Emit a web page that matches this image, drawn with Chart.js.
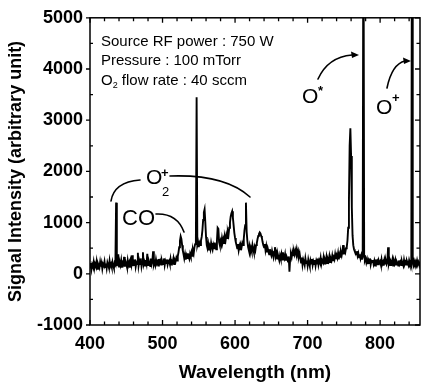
<!DOCTYPE html>
<html><head><meta charset="utf-8">
<script src="https://cdn.jsdelivr.net/npm/chart.js@4.4.1/dist/chart.umd.min.js"></script>
<style>html,body{margin:0;padding:0;background:#fff}</style>
</head><body>
<canvas id="c" width="421" height="386" style="width:421px;height:386px;display:block"></canvas>
<script>
// Sampling grid of the spectrum (nm)
const wavelengthStart = 400;
const wavelengthStep = 1;
// Signal intensity (arbitrary unit), one value per nm from 400 to 855
const intensity = [
 120,210,90,180,140,230,110,190,150,240,
 100,200,160,120,230,140,210,100,190,160,
 240,130,200,110,220,170,120,250,150,190,
 130,230,160,110,210,180,1390,150,220,380,
 140,230,170,260,120,210,180,330,140,240,
 190,130,260,170,220,120,250,180,360,150,
 230,170,280,140,220,190,410,160,250,190,
 300,150,240,420,180,230,160,270,200,390,
 170,260,210,150,300,190,250,440,180,230,
 170,280,200,230,160,290,210,250,180,270,
 220,190,300,170,250,210,280,180,240,260,
 200,290,180,250,230,300,190,270,240,310,
 260,340,420,520,640,730,680,560,450,380,
 300,380,280,360,310,400,330,290,390,340,
 420,350,460,400,520,580,640,3450,560,620,
 520,600,560,650,720,850,1050,1200,1260,1000,
 720,560,500,580,460,540,480,600,520,470,
 560,500,610,540,480,640,900,880,620,560,
 640,580,700,620,680,600,720,660,760,700,
 820,760,900,1000,1120,1180,1220,1100,950,800,
 700,620,560,500,580,460,540,480,560,520,
 600,560,680,850,950,1390,820,640,520,460,
 540,420,500,440,560,480,420,520,460,560,
 600,680,740,780,810,790,740,700,620,560,
 520,580,460,540,420,500,440,380,480,410,
 360,450,380,320,420,520,340,400,300,380,
 320,260,360,300,380,280,420,340,300,380,
 260,340,300,240,340,40,300,380,320,420,
 360,440,380,460,400,480,380,440,340,400,
 300,220,320,180,280,230,170,300,210,260,
 160,280,210,150,260,200,290,170,240,190,
 270,160,250,200,300,180,260,220,310,190,
 260,230,320,200,280,240,330,210,290,250,
 340,230,300,260,350,250,320,280,380,290,
 360,310,400,280,380,330,420,360,440,560,
 380,460,420,500,520,650,900,1400,2500,2840,
 2300,1300,750,560,480,440,420,380,440,350,
 400,320,380,300,360,280,350,8000,360,260,
 300,220,280,190,260,210,300,180,250,230,
 270,190,250,160,280,200,240,170,260,210,
 240,180,280,190,230,160,270,200,250,190,
 230,520,200,260,170,240,210,280,160,250,
 200,270,180,240,210,160,260,190,230,170,
 250,200,160,270,190,230,180,250,210,170,
 260,200,240,180,8000,230,170,250,200,240,
 180,260,190,230,170,240
];
const xTicks = [400, 500, 600, 700, 800];
const yTicks = [-1000, 0, 1000, 2000, 3000, 4000, 5000];
const xRange = [400, 855];
const yRange = [-1000, 5000];
const xMinorStep = 20;
const yMinorStep = 500;

const infoText = ['Source RF power : 750 W', 'Pressure : 100 mTorr', ' flow rate : 40 sccm'];

const points = intensity.map((v, i) => ({ x: wavelengthStart + i * wavelengthStep, y: v }));

const FONT = '"Liberation Sans", Arial, sans-serif';

const framePlugin = {
  id: 'frame',
  afterDatasetsDraw(chart) {
    const ctx = chart.ctx;
    const { left, right, top, bottom } = chart.chartArea;
    const xs = chart.scales.x, ys = chart.scales.y;
    ctx.save();
    ctx.strokeStyle = '#000';
    ctx.lineWidth = 1.5;
    ctx.strokeRect(left, top, right - left, bottom - top);
    ctx.lineWidth = 1.3;
    ctx.beginPath();
    for (let v = xRange[0]; v <= xRange[1]; v += xMinorStep) {
      const px = xs.getPixelForValue(v);
      const L = (v % 100 === 0) ? 5 : 3.5;
      ctx.moveTo(px, bottom); ctx.lineTo(px, bottom - L);
      ctx.moveTo(px, top); ctx.lineTo(px, top + L);
    }
    for (let v = yRange[0]; v <= yRange[1]; v += yMinorStep) {
      const py = ys.getPixelForValue(v);
      const major = (v % 1000 === 0);
      if (major) { ctx.moveTo(left, py); ctx.lineTo(left - 4, py); }
      else { ctx.moveTo(left, py); ctx.lineTo(left + 3, py); }
      ctx.moveTo(right, py); ctx.lineTo(right - (major ? 5 : 3.5), py);
    }
    ctx.stroke();
    ctx.restore();
  },
  afterDraw(chart) {
    const ctx = chart.ctx;
    ctx.save();
    ctx.fillStyle = '#000';
    ctx.strokeStyle = '#000';
    ctx.textBaseline = 'alphabetic';
    // info block
    ctx.font = '15px ' + FONT;
    ctx.fillText(infoText[0], 101, 46);
    ctx.fillText(infoText[1], 101, 65);
    ctx.fillText('O', 101, 85);
    const wO = ctx.measureText('O').width;
    ctx.font = '9px ' + FONT;
    ctx.fillText('2', 101 + wO, 88);
    const w2 = ctx.measureText('2').width;
    ctx.font = '15px ' + FONT;
    ctx.fillText(infoText[2], 101 + wO + w2, 85);

    // O2+ label
    ctx.font = '21px ' + FONT;
    ctx.fillText('O', 146, 184);
    ctx.font = '13px ' + FONT;
    ctx.fillText('2', 162, 196);
    ctx.font = 'bold 13px ' + FONT;
    ctx.fillText('+', 161, 177);
    // CO label
    ctx.font = '22px ' + FONT;
    ctx.fillText('CO', 122, 225);
    // O* label
    ctx.font = '21px ' + FONT;
    ctx.fillText('O', 302, 103);
    ctx.font = 'bold 13px ' + FONT;
    ctx.fillText('*', 318, 95);
    // O+ label
    ctx.font = '21px ' + FONT;
    ctx.fillText('O', 376, 114);
    ctx.font = 'bold 13px ' + FONT;
    ctx.fillText('+', 392, 102);

    ctx.lineWidth = 1.6;
    ctx.lineCap = 'round';
    ctx.beginPath();
    ctx.moveTo(111, 201); ctx.quadraticCurveTo(114, 182, 140, 180);
    ctx.moveTo(170, 176); ctx.quadraticCurveTo(225, 174, 250, 197);
    ctx.moveTo(156, 214); ctx.quadraticCurveTo(177, 213, 184, 232);
    ctx.moveTo(318, 79); ctx.quadraticCurveTo(328, 57, 352, 55);
    ctx.moveTo(387, 88); ctx.quadraticCurveTo(392, 64, 405, 61);
    ctx.stroke();
    // arrowheads
    const head = (x, y) => {
      ctx.beginPath();
      ctx.moveTo(x, y); ctx.lineTo(x - 8, y - 3.5); ctx.lineTo(x - 7, y + 3); ctx.closePath(); ctx.fill();
    };
    head(359, 55);
    head(411, 61);
    ctx.restore();
  }
};

new Chart(document.getElementById('c'), {
  type: 'line',
  data: {
    datasets: [{
      data: points,
      borderColor: '#000',
      borderWidth: 1.9,
      pointRadius: 0,
      tension: 0,
      fill: false
    }]
  },
  options: {
    responsive: false,
    animation: false,
    devicePixelRatio: 1,
    layout: { padding: { left: 0, right: 1, top: 14, bottom: 0 } },
    plugins: { legend: { display: false }, tooltip: { enabled: false } },
    scales: {
      x: {
        type: 'linear', min: xRange[0], max: xRange[1],
        afterBuildTicks: s => { s.ticks = xTicks.map(v => ({ value: v })); },
        afterFit: s => { s.height = 61; },
        grid: { display: false, drawTicks: false },
        border: { display: false },
        ticks: { color: '#000', padding: 8, maxRotation: 0, callback: v => String(v), font: { family: FONT, size: 18, weight: 'bold' } },
        title: { display: true, text: 'Wavelength (nm)', color: '#000', padding: { top: 2, bottom: 2 }, font: { family: FONT, size: 19, weight: 'bold' } }
      },
      y: {
        type: 'linear', min: yRange[0], max: yRange[1],
        afterBuildTicks: s => { s.ticks = yTicks.map(v => ({ value: v })); },
        afterFit: s => { s.width = 90; },
        grid: { display: false, drawTicks: false },
        border: { display: false },
        ticks: { color: '#000', padding: 7, callback: v => String(v), font: { family: FONT, size: 18, weight: 'bold' } },
        title: { display: true, text: 'Signal Intensity (arbitrary unit)', color: '#000', padding: { top: 5, bottom: 0 }, font: { family: FONT, size: 18, weight: 'bold' } }
      }
    }
  },
  plugins: [framePlugin]
});
</script>
</body></html>
